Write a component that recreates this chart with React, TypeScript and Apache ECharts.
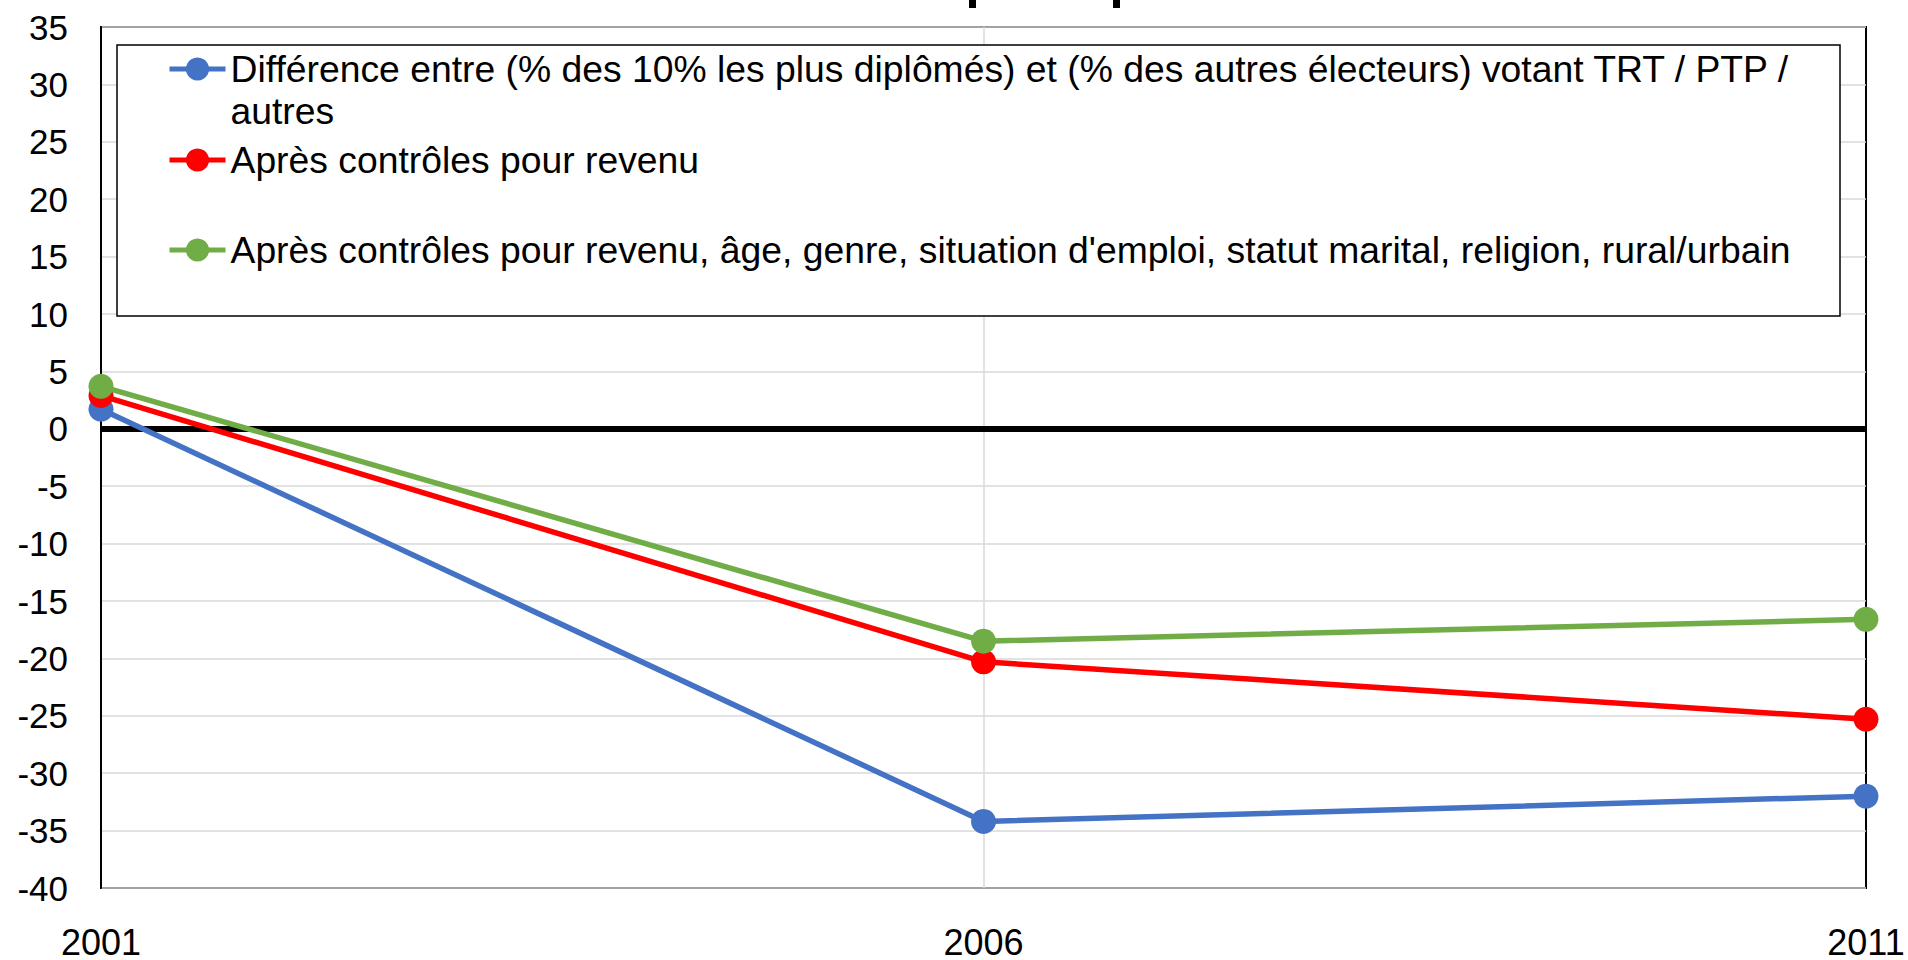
import React, { useEffect, useRef } from "react";
import * as echarts from "echarts";

const years = ["2001", "2006", "2011"];
const seriesNames = [
  "Différence entre (% des 10% les plus diplômés) et (% des autres électeurs) votant TRT / PTP / autres",
  "Après contrôles pour revenu",
  "Après contrôles pour revenu, âge, genre, situation d'emploi, statut marital, religion, rural/urbain",
];
const diffValues = [1.7, -34.2, -32.0];
const incomeValues = [2.9, -20.3, -25.3];
const allControlsValues = [3.7, -18.5, -16.6];
const colors = ["#4472C4", "#FF0000", "#70AD47"];

const FONT = "'Liberation Sans', Arial, sans-serif";

export default function App() {
  const ref = useRef<HTMLDivElement>(null);
  useEffect(() => {
    if (!ref.current) return;
    const chart = echarts.init(ref.current, null, { renderer: "svg" });
    const values = [diffValues, incomeValues, allControlsValues];
    const legendText = {
      color: "#000",
      fontSize: 37.3,
      fontFamily: FONT,
      lineHeight: 42,
    };
    const legendCommon = {
      orient: "vertical",
      left: 167,
      padding: 0,
      itemWidth: 56,
      itemHeight: 29,
      itemGap: 0,
      selectedMode: false,
      z: 10,
      lineStyle: { width: 5 },
      textStyle: legendText,
    };
    chart.setOption({
      animation: false,
      backgroundColor: "#fff",
      textStyle: { fontFamily: FONT },
      grid: {
        left: 101,
        right: 42,
        top: 27,
        bottom: 71,
        show: true,
        borderColor: "#000",
        borderWidth: 2,
        backgroundColor: "transparent",
      },
      xAxis: {
        type: "category",
        data: years,
        boundaryGap: false,
        axisLine: { show: false },
        axisTick: { show: false },
        axisLabel: {
          color: "#000",
          fontSize: 36,
          fontFamily: FONT,
          margin: 36,
        },
        splitLine: {
          show: true,
          interval: (index: number) => index === 1,
          lineStyle: { color: "#d9d9d9", width: 1.5 },
        },
      },
      yAxis: {
        type: "value",
        min: -40,
        max: 35,
        interval: 5,
        axisLine: { show: true, lineStyle: { color: "#000", width: 2 } },
        axisTick: { show: false },
        axisLabel: {
          color: "#000",
          fontSize: 35,
          fontFamily: FONT,
          margin: 33,
        },
        splitLine: { show: true, lineStyle: { color: "#d9d9d9", width: 1.5 } },
      },
      legend: [
        {
          ...legendCommon,
          top: 6,
          data: [seriesNames[0]],
          formatter: () =>
            "\nDifférence entre (% des 10% les plus diplômés) et (% des autres électeurs) votant TRT / PTP /\nautres",
        },
        { ...legendCommon, top: 139, data: [seriesNames[1]] },
        { ...legendCommon, top: 229, data: [seriesNames[2]] },
      ],
      graphic: [
        {
          type: "rect",
          z: 5,
          shape: { x: 117, y: 45, width: 1723, height: 271 },
          style: { fill: "#fff", stroke: "#000", lineWidth: 1.5 },
        },
        {
          type: "rect",
          z: 5,
          shape: { x: 969, y: 0, width: 7, height: 8 },
          style: { fill: "#000" },
        },
        {
          type: "rect",
          z: 5,
          shape: { x: 1113, y: 0, width: 7, height: 8 },
          style: { fill: "#000" },
        },
      ],
      series: values.map((v, i) => ({
        name: seriesNames[i],
        type: "line",
        data: v,
        symbol: "circle",
        symbolSize: 25,
        color: colors[i],
        lineStyle: { color: colors[i], width: 5.5 },
        itemStyle: { color: colors[i] },
        z: 3 + i,
        markLine:
          i === 0
            ? {
                silent: true,
                symbol: "none",
                label: { show: false },
                lineStyle: { color: "#000", width: 6, type: "solid" },
                data: [{ yAxis: 0 }],
                z: 2,
              }
            : undefined,
      })),
    });
    return () => chart.dispose();
  }, []);
  return (
    <div
      ref={ref}
      style={{ position: "fixed", left: 0, top: 0, width: 1908, height: 960, background: "#fff" }}
    />
  );
}
